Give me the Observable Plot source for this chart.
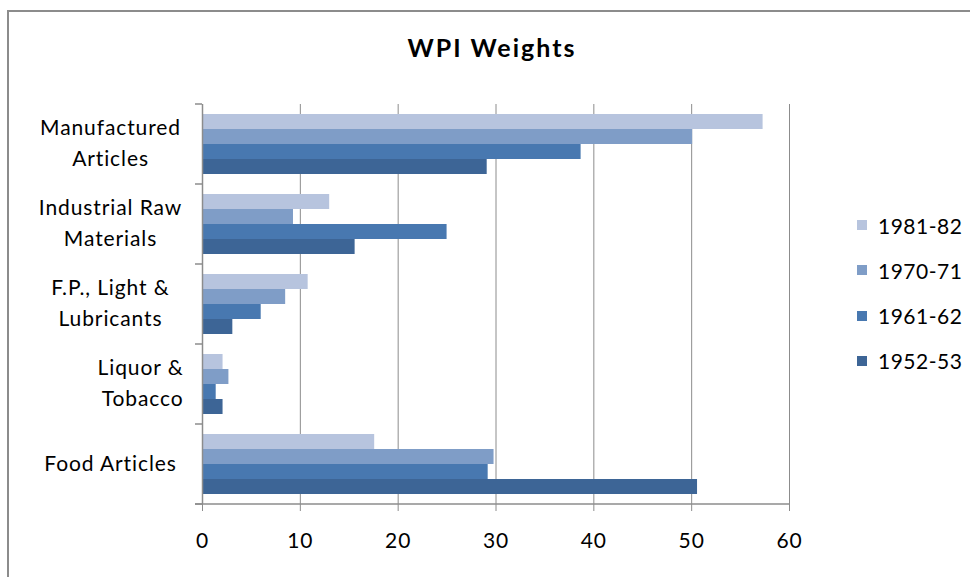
<!DOCTYPE html>
<html>
<head>
<meta charset="utf-8">
<script src="https://cdn.jsdelivr.net/npm/d3@7"></script>
<script src="https://cdn.jsdelivr.net/npm/@observablehq/plot@0.6"></script>
<style>
  body { margin: 0; background: #fff; font-family: Lato, "Open Sans", sans-serif; }
  #wrap { position: relative; width: 970px; height: 577px; overflow: hidden; background: #fff; }
  #border { position: absolute; left: 7px; top: 10px; width: 990px; height: 600px; border: 2px solid #8c8c8c; box-sizing: border-box; }
  #title { position: absolute; top: 32px; left: 0; width: 984px; text-align: center; font-weight: bold; font-size: 25px; line-height: 30px; letter-spacing: 2px; color: #000; }
  #chart { position: absolute; left: 0; top: 0; }
  #chart svg text { letter-spacing: 0.9px; }
  #legend { position: absolute; left: 857px; top: 0; }
  .item { position: absolute; left: 0; height: 24px; display: flex; align-items: center; white-space: nowrap; font-size: 21px; letter-spacing: 0.5px; color: #000; }
  .sw { width: 10px; height: 10px; margin-right: 11px; flex: none; }
</style>
</head>
<body>
<div id="wrap">
  <div id="border"></div>
  <div id="chart"></div>
  <div id="title">WPI Weights</div>
  <div id="legend"></div>
</div>
<script>
// ---- data ----
const categories = ["Manufactured Articles", "Industrial Raw Materials", "F.P., Light & Lubricants", "Liquor & Tobacco", "Food Articles"];
const categoryLabels = ["Manufactured\nArticles", "Industrial Raw\nMaterials", "F.P., Light &\nLubricants", "Liquor &\nTobacco", "Food Articles"];
const years = ["1981-82", "1970-71", "1961-62", "1952-53"];
const w1981 = [57.3, 13.0, 10.8, 2.1, 17.6];
const w1970 = [50.1, 9.3, 8.5, 2.7, 29.8];
const w1961 = [38.7, 25.0, 6.0, 1.4, 29.2];
const w1952 = [29.1, 15.6, 3.1, 2.1, 50.6];
const xTicks = [0, 10, 20, 30, 40, 50, 60];
const colors = ["#B7C4DE", "#7F9DC7", "#4878B0", "#3D6596"];

const seriesValues = [w1981, w1970, w1961, w1952];
const data = years.flatMap((yr, i) => categories.map((c, j) => ({category: c, year: yr, value: seriesValues[i][j]})));
const labels = categories.map((c, j) => ({category: c, label: categoryLabels[j]}));
const gray = "#8c8c8c";

const chart = Plot.plot({
  width: 830,
  height: 577,
  marginLeft: 202,
  marginRight: 41,
  marginTop: 103,
  marginBottom: 72,
  style: {fontFamily: "Lato, 'Open Sans', sans-serif", fontSize: "21px", background: "transparent", color: "#000"},
  x: {domain: [0, 60], axis: null},
  fy: {domain: categories, paddingInner: 0, paddingOuter: 0, axis: null},
  y: {domain: years, paddingInner: 0, paddingOuter: 0.625, axis: null},
  color: {domain: years, range: colors},
  marks: [
    Plot.ruleX(xTicks.slice(1), {stroke: gray, strokeWidth: 1}),
    Plot.barX(data, {x: "value", y: "year", fy: "category", fill: "year"}),
    Plot.ruleX([0], {stroke: gray, strokeWidth: 1.5}),
    Plot.axisX({ticks: xTicks, tickSize: 7, tickPadding: 22, stroke: gray, fill: "#000", fontSize: 21, label: null, tickFormat: d => String(d)}),
    Plot.text(labels.filter(d => d.category !== "Liquor & Tobacco"), {
      fy: "category", text: "label", frameAnchor: "left", dx: -92, dy: -4, textAnchor: "middle",
      lineHeight: 1.5, fontSize: 21, fill: "#000"
    }),
    Plot.text(labels.filter(d => d.category === "Liquor & Tobacco"), {
      fy: "category", text: "label", frameAnchor: "left", dx: -19, dy: -4, textAnchor: "end",
      lineHeight: 1.5, fontSize: 21, fill: "#000"
    })
  ]
});

// category boundary ticks and bottom axis line, placed with the plot's own scales
const fy = chart.scale("fy");
const xs = chart.scale("x");
const x0 = xs.apply(0), x1 = xs.apply(60);
const g = d3.select(chart).append("g").attr("stroke", gray).attr("stroke-width", 1.5);
const bounds = categories.map(c => fy.apply(c));
bounds.push(fy.apply(categories[categories.length - 1]) + fy.bandwidth);
bounds.forEach(b => {
  g.append("line").attr("x1", x0 - 7).attr("x2", x0).attr("y1", b).attr("y2", b);
});
const yb = bounds[bounds.length - 1];
g.append("line").attr("x1", x0 - 7).attr("x2", x1).attr("y1", yb).attr("y2", yb);

document.getElementById("chart").appendChild(chart);

// legend
const legend = document.getElementById("legend");
years.forEach((yr, i) => {
  const item = document.createElement("div");
  item.className = "item";
  item.style.top = (213 + i * 45.3) + "px";
  const sw = document.createElement("span");
  sw.className = "sw";
  sw.style.background = colors[i];
  const t = document.createElement("span");
  t.textContent = yr;
  item.appendChild(sw);
  item.appendChild(t);
  legend.appendChild(item);
});
</script>
</body>
</html>
